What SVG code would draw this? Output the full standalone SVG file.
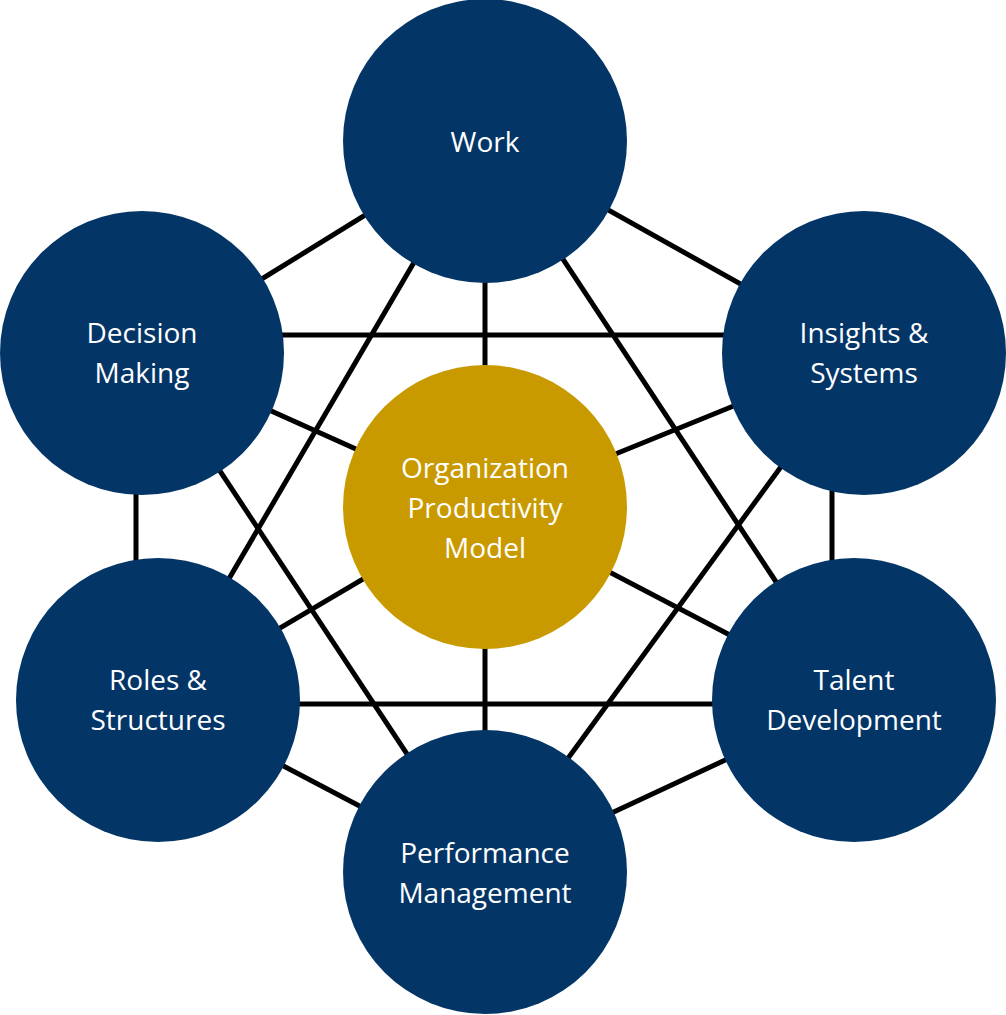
<svg xmlns="http://www.w3.org/2000/svg" width="1006" height="1015" viewBox="0 0 1006 1015">
<style>
.l{stroke:#000;stroke-width:5;fill:none}
.n{fill:#033567}
.c{fill:#C99A00}
text{font-family:"Open Sans","Liberation Sans",sans-serif;font-size:28px;fill:#fff;text-anchor:middle}
</style>
<rect width="1006" height="1015" fill="#fff"/>
<g id="connectors">
<line class="l" x1="485" y1="141" x2="142" y2="353"/>
<line class="l" x1="485" y1="141" x2="864" y2="353"/>
<line class="l" x1="485" y1="141" x2="485" y2="507"/>
<line class="l" x1="485" y1="141" x2="158" y2="700"/>
<line class="l" x1="485" y1="141" x2="854" y2="700"/>
<line class="l" x1="142" y1="335" x2="864" y2="335"/>
<line class="l" x1="136" y1="353" x2="136" y2="700"/>
<line class="l" x1="142" y1="353" x2="485" y2="507"/>
<line class="l" x1="142" y1="353" x2="485" y2="872"/>
<line class="l" x1="832" y1="353" x2="832" y2="700"/>
<line class="l" x1="864" y1="353" x2="485" y2="507"/>
<line class="l" x1="864" y1="353" x2="485" y2="872"/>
<line class="l" x1="158" y1="700" x2="485" y2="507"/>
<line class="l" x1="854" y1="700" x2="485" y2="507"/>
<line class="l" x1="158" y1="704" x2="854" y2="704"/>
<line class="l" x1="158" y1="700" x2="485" y2="872"/>
<line class="l" x1="854" y1="700" x2="485" y2="872"/>
<line class="l" x1="485" y1="507" x2="485" y2="872"/>
</g>
<g id="work"><circle class="n" cx="485" cy="141" r="142"/><text x="485" y="152">Work</text></g>
<g id="decision"><circle class="n" cx="142" cy="353" r="142"/><text x="142" y="343">Decision</text><text x="142" y="383">Making</text></g>
<g id="insights"><circle class="n" cx="864" cy="353" r="142"/><text x="864" y="343">Insights &amp;</text><text x="864" y="383">Systems</text></g>
<g id="roles"><circle class="n" cx="158" cy="700" r="142"/><text x="158" y="690">Roles &amp;</text><text x="158" y="730">Structures</text></g>
<g id="talent"><circle class="n" cx="854" cy="700" r="142"/><text x="854" y="690">Talent</text><text x="854" y="730">Development</text></g>
<g id="performance"><circle class="n" cx="485" cy="872" r="142"/><text x="485" y="863">Performance</text><text x="485" y="903">Management</text></g>
<g id="center"><circle class="c" cx="485" cy="507" r="142"/><text x="485" y="478">Organization</text><text x="485" y="518">Productivity</text><text x="485" y="558">Model</text></g>
</svg>
